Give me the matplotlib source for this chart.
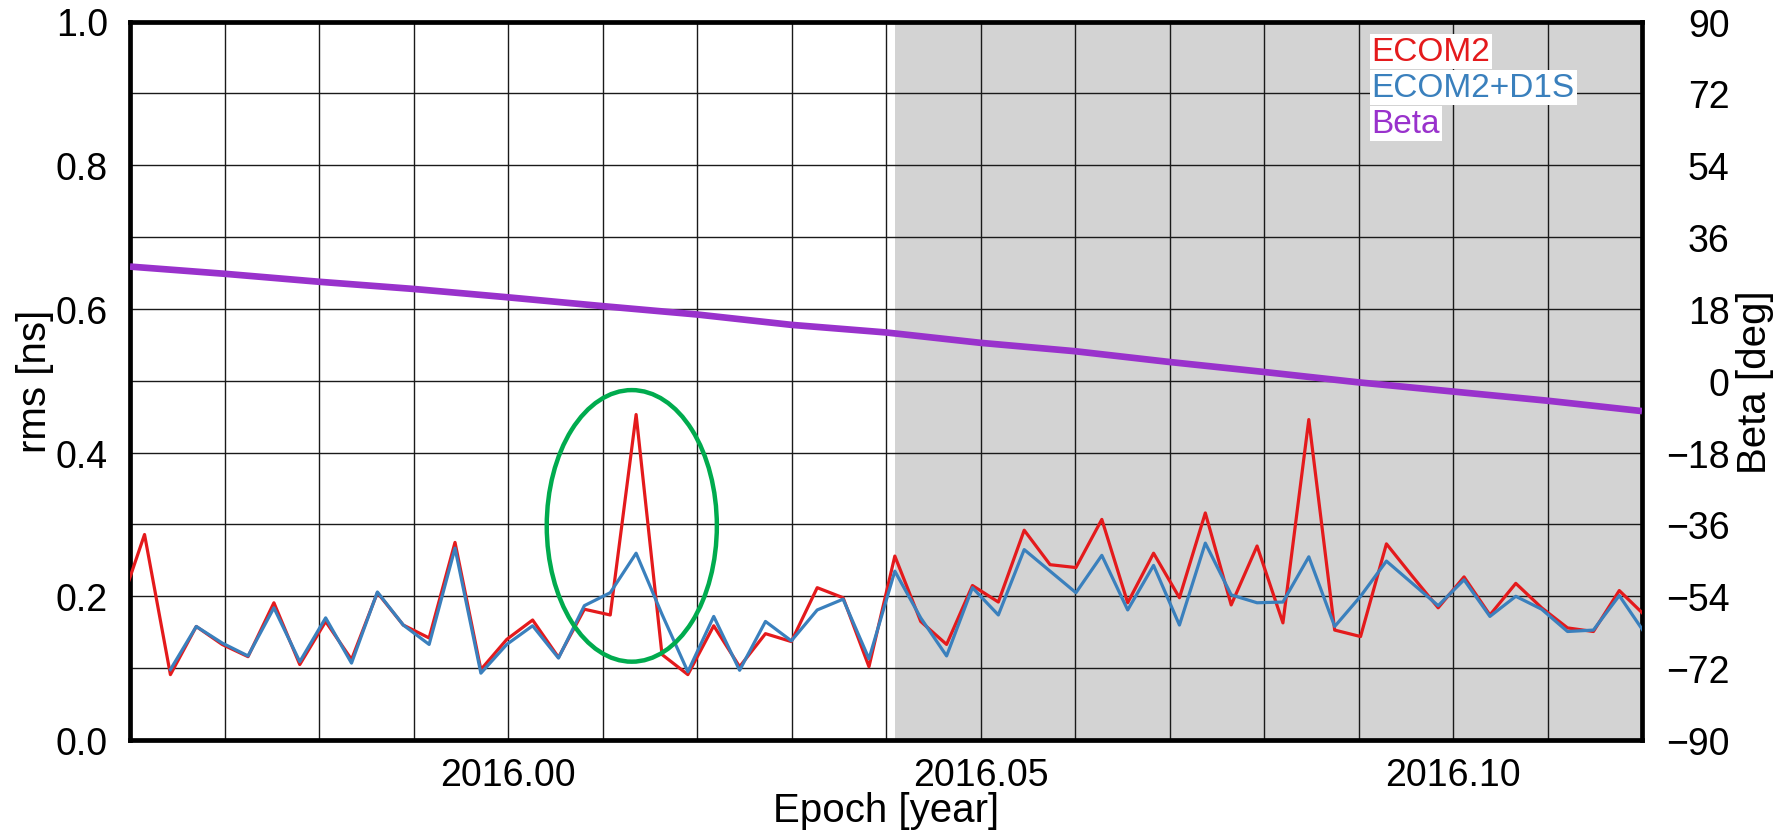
# plot.py
# rms of ECOM2 vs ECOM2+D1S with the beta angle on a second axis

import numpy as np
import matplotlib
matplotlib.use("Agg")
import matplotlib.pyplot as plt
from matplotlib.patches import Ellipse

# ============ DATA ============

EPOCH_START = 2015.9588       # first daily epoch (just left of the frame)
DAY = 1 / 365.25

ECOM2 = [0.180, 0.286, 0.091, 0.158, 0.133, 0.116, 0.191, 0.105, 0.165, 0.112,
         0.205, 0.160, 0.142, 0.275, 0.098, 0.140, 0.167, 0.115, 0.182, 0.174,
         0.453, 0.119, 0.091, 0.159, 0.102, 0.148, 0.137, 0.212, 0.198, 0.102,
         0.256, 0.165, 0.133, 0.215, 0.192, 0.292, 0.244, 0.240, 0.307, 0.191,
         0.260, 0.198, 0.316, 0.188, 0.270, 0.163, 0.446, 0.153, 0.144, 0.273,
         0.228, 0.184, 0.227, 0.174, 0.218, 0.184, 0.156, 0.151, 0.208, 0.173]

ECOM2_D1S = [np.nan, np.nan, 0.098, 0.158, 0.135, 0.117, 0.184, 0.109, 0.170, 0.107,
             0.206, 0.160, 0.133, 0.267, 0.093, 0.133, 0.159, 0.114, 0.187, 0.205,
             0.260, 0.175, 0.095, 0.172, 0.097, 0.165, 0.138, 0.181, 0.196, 0.113,
             0.235, 0.170, 0.117, 0.212, 0.174, 0.265, 0.235, 0.205, 0.257, 0.181,
             0.243, 0.160, 0.274, 0.202, 0.191, 0.192, 0.255, 0.158, 0.200, 0.249,
             0.218, 0.187, 0.223, 0.172, 0.200, 0.182, 0.151, 0.153, 0.201, 0.148]

BETA_EPOCH = [2015.96, 2015.97, 2015.98, 2015.99, 2016.00, 2016.01, 2016.02, 2016.03,
              2016.04, 2016.05, 2016.06, 2016.07, 2016.08, 2016.09, 2016.10, 2016.11, 2016.12]
BETA_DEG = [28.6, 26.8, 24.8, 23.0, 20.9, 18.7, 16.6, 14.0,
            12.1, 9.5, 7.4, 4.7, 2.2, -0.4, -2.7, -5.0, -7.6]

SHADE_START = 2016.0410
XLIM = (2015.96, 2016.12)

# highlighted outlier (center epoch, center rms, width, height)
MARK_X, MARK_Y, MARK_W, MARK_H = 2016.0131, 0.298, 0.0180, 0.378

RED = "#e41a1c"
BLUE = "#3a80bd"
PURPLE = "#9932cc"
GREEN = "#00ab4e"
TICK_FS = 27
LABEL_FS = 29
LEGEND_FS = 24

# ======================================

plt.rcParams["font.family"] = ["Liberation Sans", "DejaVu Sans"]

epochs = EPOCH_START + DAY * np.arange(len(ECOM2))

fig = plt.figure(figsize=(17.87, 8.37), dpi=100)
ax = fig.add_axes([130 / 1787, 1 - 741 / 837, 1512 / 1787, 718.5 / 837])

ax.axvspan(SHADE_START, XLIM[1], color="#d3d3d3", lw=0, zorder=0)
ax.plot(epochs, ECOM2, color=RED, lw=2.3, zorder=3)
ax.plot(epochs, ECOM2_D1S, color=BLUE, lw=2.3, zorder=4)
ax.add_patch(Ellipse((MARK_X, MARK_Y), MARK_W, MARK_H, fill=False,
                     edgecolor=GREEN, lw=3.2, zorder=5))

ax.set_xlim(*XLIM)
ax.set_ylim(0, 1)
xt = np.round(np.arange(XLIM[0], XLIM[1] + 0.001, 0.01), 2)
ax.set_xticks(xt)
ax.set_xticklabels([f"{v:.2f}" if round(v * 100) % 5 == 0 else "" for v in xt])
yt = np.round(np.arange(0, 1.001, 0.1), 1)
ax.set_yticks(yt)
ax.set_yticklabels([f"{v:.1f}" if i % 2 == 0 else "" for i, v in enumerate(yt)])
ax.grid(True, color="#1a1a1a", lw=1.0)
ax.set_axisbelow("line")
ax.tick_params(axis="both", length=0, labelsize=TICK_FS)
ax.tick_params(axis="x", pad=12)
ax.tick_params(axis="y", pad=16)
for s in ax.spines.values():
    s.set_linewidth(3.4)
ax.set_xlabel("Epoch [year]", fontsize=LABEL_FS)
ax.xaxis.set_label_coords(0.5, -0.071)
ax.set_ylabel("rms [ns]", fontsize=LABEL_FS)
ax.yaxis.set_label_coords(-0.0503, 0.5)

# beta angle on right axis
ax2 = ax.twinx()
ax2.plot(BETA_EPOCH, BETA_DEG, color=PURPLE, lw=4.8, solid_capstyle="butt")
ax2.set_ylim(-90, 90)
ax2.set_yticks(np.arange(-90, 91, 18))
ax2.set_yticklabels([str(v).replace("-", "\u2212") for v in range(-90, 91, 18)])
ax2.tick_params(axis="y", length=0, labelsize=TICK_FS, pad=63)
for lab in ax2.get_yticklabels():
    lab.set_horizontalalignment("right")
for s in ax2.spines.values():
    s.set_visible(False)
ax2.set_ylabel("Beta [deg]", fontsize=LABEL_FS)
ax2.yaxis.set_label_coords(1.0620, 0.5)
ax2.set_xlim(*XLIM)

# legend as coloured labels on white boxes
for txt, col, yb in [("ECOM2", RED, 0.9464), ("ECOM2+D1S", BLUE, 0.8963), ("Beta", PURPLE, 0.8462)]:
    ax2.text(0.8212, yb, txt, color=col, fontsize=LEGEND_FS, va="baseline", ha="left",
             transform=ax2.transAxes, zorder=10,
             bbox=dict(facecolor="white", edgecolor="none", pad=1.5))

fig.savefig("out.png", dpi=100)
plt.close(fig)
